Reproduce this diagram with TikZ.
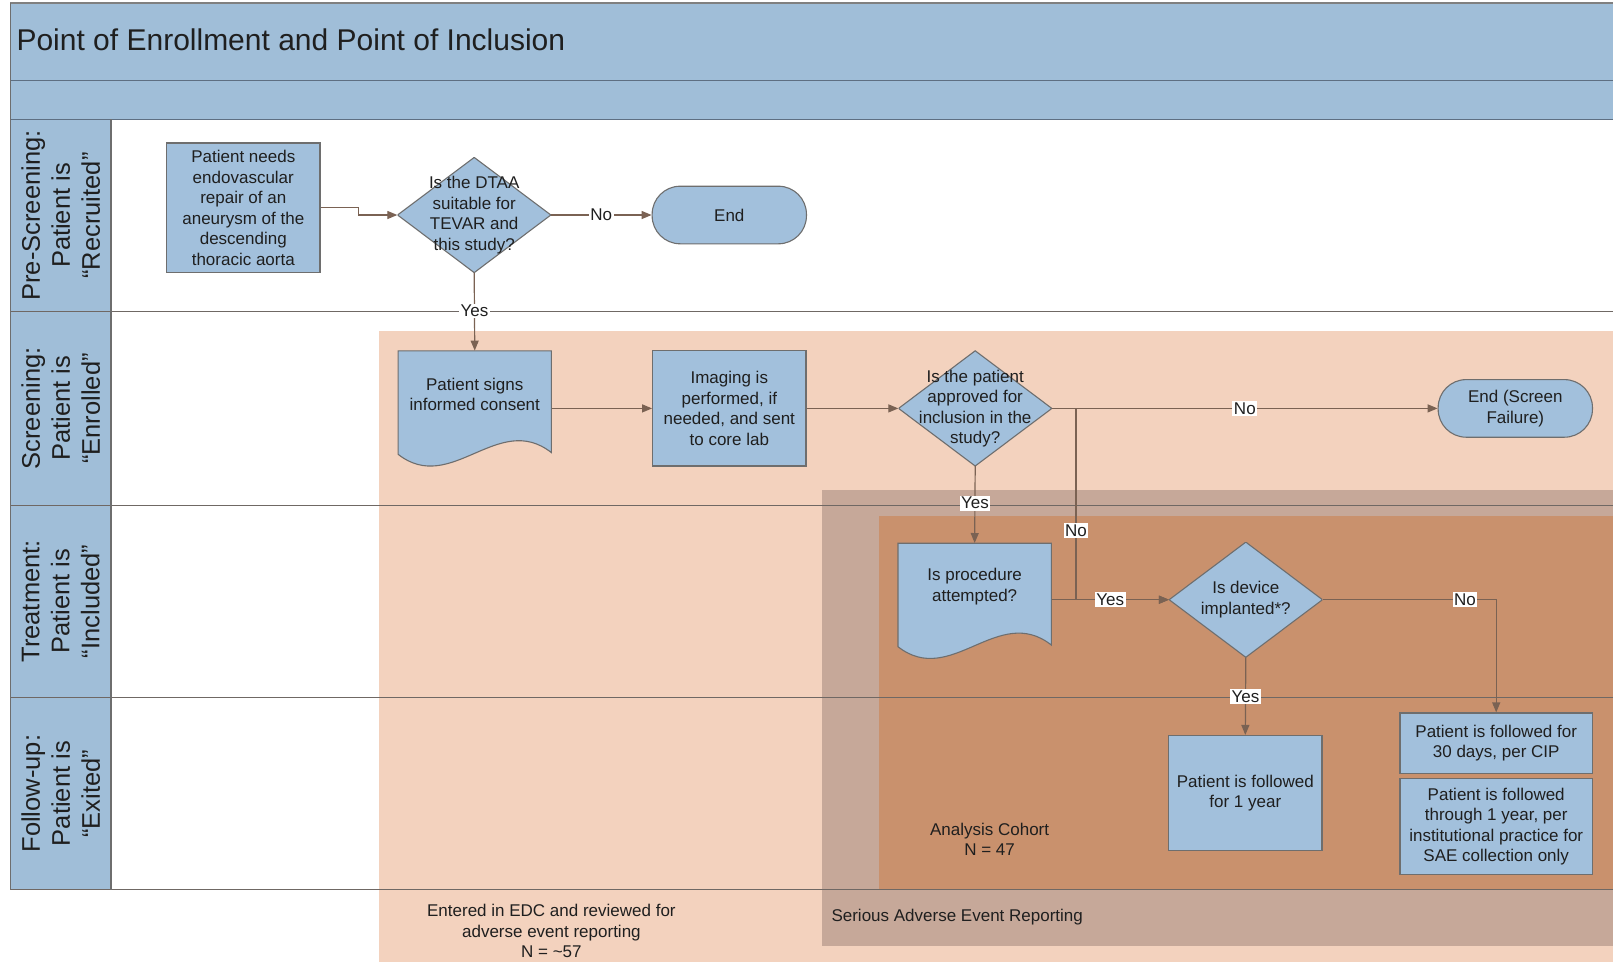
\documentclass[tikz,border=0pt]{standalone}
\usepackage{fontspec}
\setmainfont{Liberation Sans}
\usetikzlibrary{arrows.meta,calc}

\definecolor{bandblue}{HTML}{A0BED8}
\definecolor{boxblue}{HTML}{A2C0DC}
\definecolor{boxline}{HTML}{6E6E6E}
\definecolor{laneline}{HTML}{6F6864}
\definecolor{bandline}{HTML}{5E6F82}
\definecolor{flowline}{HTML}{7A6253}
\definecolor{peach}{HTML}{F3D2BE}
\definecolor{saegray}{HTML}{C6A899}
\definecolor{cohort}{HTML}{C9916D}

\tikzset{
  every node/.style={font=\fontsize{17}{20.5}\selectfont, align=center, text=black!88},
  process/.style={draw=boxline, fill=boxblue, line width=1.1pt, inner sep=0pt,
    minimum width=153.3pt, minimum height=115.2pt},
  terminal/.style={draw=boxline, fill=boxblue, line width=1.1pt, inner sep=0pt,
    rounded corners=28pt, minimum width=154.3pt, minimum height=57.6pt},
  decision/.style={inner sep=0pt, minimum width=153.3pt, minimum height=115.2pt,
    path picture={\filldraw[fill=boxblue, draw=boxline, line width=1.1pt]
      (path picture bounding box.north) -- (path picture bounding box.east)
      -- (path picture bounding box.south) -- (path picture bounding box.west) -- cycle;}},
  doctext/.style={inner sep=0pt, minimum width=153.3pt, minimum height=87pt},
  lanehead/.style={rotate=90, font=\fontsize{25.5}{30}\selectfont},
  flow/.style={draw=flowline, line width=1.2pt, ->},
  lbl/.style={fill=white, inner sep=1.5pt},
}

% document shape: name, top left corner, text
\newcommand{\flowdoc}[3]{%
  \begin{scope}[shift={#2}]
    \filldraw[fill=boxblue, draw=boxline, line width=1.1pt]
      (0,0) -- (153.3,0) -- (153.3,101.8)
      .. controls (100,60) and (53,145) .. (0,103.5) -- cycle;
    \node[doctext] (#1) at (76.65,43.5) {#3};
  \end{scope}}

\begin{document}
\begin{tikzpicture}[x=1pt, y=-1pt, >={Triangle[length=10pt,width=8pt]}]
    \useasboundingbox (0,0) rectangle (1613,962);
    \fill[white] (0,0) rectangle (1613,962);

    % Title band and lane headers
    \fill[bandblue] (10.3,3.1) rectangle (1613,119.3);
    \fill[bandblue] (10.3,119.3) rectangle (111.1,889.8);
    \node[anchor=west, align=left, font=\fontsize{30}{36}\selectfont] (title) at (13,40)
        {Point of Enrollment and Point of Inclusion};

    % Shaded reporting regions
    \fill[peach] (378.6,331.2) rectangle (1613,962);
    \fill[saegray] (822,489.7) rectangle (1613,946.4);
    \fill[cohort] (878.5,516.4) rectangle (1613,889.8);

    % Frame and lane lines
    \draw[gray, line width=1.3pt] (10.3,3.1) -- (1613,3.1);
    \draw[bandline, line width=1.3pt] (10.3,80.2) -- (1613,80.2);
    \draw[bandline, line width=1.3pt] (10.3,119.3) -- (1613,119.3);
    \foreach \y in {311.7,505.1,697.5,889.8}
        \draw[laneline, line width=1.2pt] (10.3,\y) -- (1613,\y);
    \draw[boxline, line width=1.3pt] (10.3,3.1) -- (10.3,889.8);
    \draw[boxline, line width=1.3pt] (111.1,119.3) -- (111.1,889.8);

    \node[lanehead] (lane1) at (60.7,215.5) {Pre-Screening:\\Patient is\\“Recruited”};
    \node[lanehead] (lane2) at (60.7,408.4) {Screening:\\Patient is\\“Enrolled”};
    \node[lanehead] (lane3) at (60.7,601.3) {Treatment:\\Patient is\\“Included”};
    \node[lanehead] (lane4) at (60.7,793.6) {Follow-up:\\Patient is\\“Exited”};

    % Flow nodes
    \node[process, minimum height=129.6pt] (need) at (243.3,207.8)
        {Patient needs\\endovascular\\repair of an\\aneurysm of the\\descending\\thoracic aorta};
    \node[decision] (dtaa) at (474.2,215) {Is the DTAA\\suitable for\\TEVAR and\\this study?};
    \node[terminal] (end1) at (729.3,215) {End};
    \flowdoc{consent}{(398.1,350.8)}{Patient signs\\informed consent}
    \node[process] (imaging) at (729.3,408.4) {Imaging is\\performed, if\\needed, and sent\\to core lab};
    \node[decision] (approved) at (975.2,408.4) {Is the patient\\approved for\\inclusion in the\\study?};
    \node[terminal] (endsf) at (1515.3,408.4) {End (Screen\\Failure)};
    \flowdoc{proc}{(898,543.2)}{Is procedure\\attempted?}
    \node[decision] (device) at (1245.8,599.7) {Is device\\implanted*?};
    \node[process] (year) at (1245.3,793.1) {Patient is followed\\for 1 year};
    \node[process, minimum width=192.4pt, minimum height=60.7pt] (thirty) at (1496.2,743.3)
        {Patient is followed for\\30 days, per CIP};
    \node[process, minimum width=192.4pt, minimum height=95.7pt] (saeonly) at (1496.2,826.6)
        {Patient is followed\\through 1 year, per\\institutional practice for\\SAE collection only};

    % Region captions
    \node (cohortlbl) at (989.6,839.4) {Analysis Cohort\\N = 47};
    \node[anchor=west] (saelbl) at (828,916.6) {Serious Adverse Event Reporting};
    \node (edclbl) at (551.4,931) {Entered in EDC and reviewed for\\adverse event reporting\\N = \textasciitilde57};

    % Connectors
    \draw[flow] (need.east) -- ++(38,0) |- (dtaa.west);
    \draw[flow] (dtaa.east) -- node[lbl] {No} (end1.west);
    \draw[flow] (dtaa.south) -- node[lbl, pos=0.49] {Yes} (consent.north);
    \draw[flow] (consent.east |- imaging.west) -- (imaging.west);
    \draw[flow] (imaging.east) -- (approved.west);
    \draw[flow] (approved.east) -- node[lbl] {No} (endsf.west);
    \draw[flow] (approved.south) -- node[lbl, pos=0.48] {Yes} (proc.north);
    \draw[flow] (approved.east) -- ++(24,0) |- node[lbl, pos=0.32] {No} (device.west);
    \draw[flow] (proc.east |- device.west) -- node[lbl] {Yes} (device.west);
    \draw[flow] (device.east) -| node[lbl, pos=0.41] {No} (thirty.north);
    \draw[flow] (device.south) -- node[lbl] {Yes} (year.north);
\end{tikzpicture}
\end{document}
